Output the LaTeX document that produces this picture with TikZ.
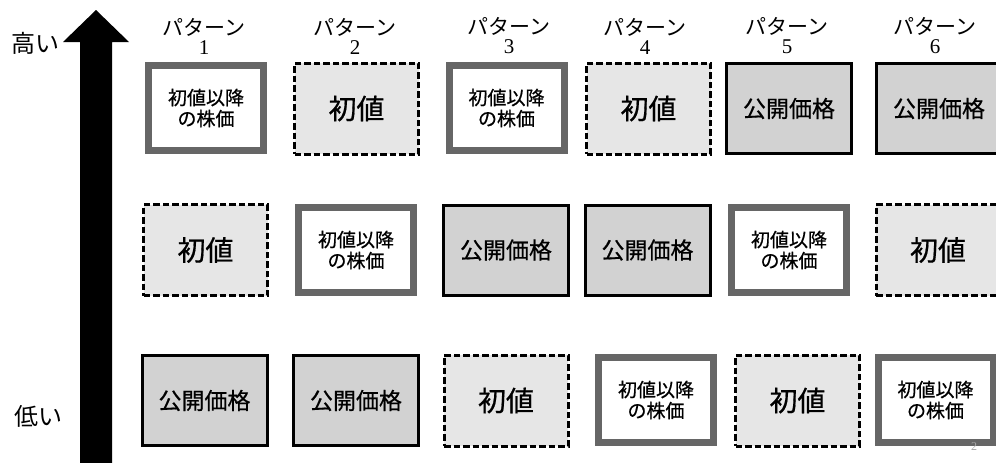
\documentclass[tikz,border=0pt]{standalone}
\usepackage{fontspec}
\setmainfont{Liberation Serif}
\newfontfamily\jp{Noto Sans CJK JP}
\newfontfamily\jpb[FakeBold=0.6]{Noto Sans CJK JP}
\definecolor{bordergray}{HTML}{666666}
\definecolor{lightfill}{HTML}{E6E6E6}
\definecolor{midfill}{HTML}{D2D2D2}
\begin{document}
\begin{tikzpicture}[x=1pt,y=-1pt,
  thickbox/.style={draw=bordergray, line width=7pt, fill=white, minimum width=115pt, minimum height=85pt, inner sep=0pt, align=center, font=\jpb\fontsize{19}{21}\selectfont},
  dashbox/.style={draw=black, dash pattern=on 6.5pt off 3pt, line width=3pt, fill=lightfill, minimum width=124pt, minimum height=91pt, inner sep=0pt, font=\jpb\fontsize{28}{30}\selectfont},
  solidbox/.style={draw=black, line width=3pt, fill=midfill, minimum width=125pt, minimum height=90pt, inner sep=0pt, font=\jpb\fontsize{23}{26}\selectfont},
  header/.style={align=center, inner sep=0pt, font=\fontsize{21}{22}\selectfont},
  sidelabel/.style={inner sep=0pt, font=\jp\fontsize{24}{26}\selectfont}
]
\useasboundingbox (0,0) rectangle (996,463);
% arrow
\coordinate (tip) at (96,10);
\fill[black] (tip) -- (129,42) -- (112,42) -- (112,470) -- (80,470) -- (80,42) -- (63,42) -- cycle;
\node[sidelabel] (high) at (35,43) {高い};
\node[sidelabel] (low) at (38,416) {低い};
% headers
\node[header] (h1) at (204,36) {{\jp パターン}\\[-3pt]1};
\node[header] (h2) at (355,36) {{\jp パターン}\\[-3pt]2};
\node[header] (h3) at (509,36) {{\jp パターン}\\[-3pt]3};
\node[header] (h4) at (645,36) {{\jp パターン}\\[-3pt]4};
\node[header] (h5) at (787,36) {{\jp パターン}\\[-3pt]5};
\node[header] (h6) at (935,36) {{\jp パターン}\\[-3pt]6};
% row 1 (high)
\node[thickbox] (a1) at (206,108) {初値以降\\の株価};
\node[dashbox]  (a2) at (356.5,108.5) {初値};
\node[thickbox] (a3) at (506.5,108) {初値以降\\の株価};
\node[dashbox]  (a4) at (648.5,108.5) {初値};
\node[solidbox] (a5) at (789,108.5) {公開価格};
\node[solidbox] (a6) at (939,108.5) {公開価格};
% row 2
\node[dashbox]  (b1) at (205.5,250) {初値};
\node[thickbox] (b2) at (356,250) {初値以降\\の株価};
\node[solidbox] (b3) at (506,250) {公開価格};
\node[solidbox] (b4) at (647.5,250) {公開価格};
\node[thickbox] (b5) at (789,250) {初値以降\\の株価};
\node[dashbox]  (b6) at (938,250) {初値};
% row 3 (low)
\node[solidbox] (c1) at (204.5,400.5) {公開価格};
\node[solidbox] (c2) at (356,400.5) {公開価格};
\node[dashbox]  (c3) at (506,400.5) {初値};
\node[thickbox] (c4) at (656,400) {初値以降\\の株価};
\node[dashbox]  (c5) at (797.5,400.5) {初値};
\node[thickbox] (c6) at (935.5,400) {初値以降\\の株価};
% page number
\node[inner sep=0pt, text=gray!70, font=\fontsize{12}{12}\selectfont] (pg) at (974,447) {2};
\end{tikzpicture}
\end{document}
